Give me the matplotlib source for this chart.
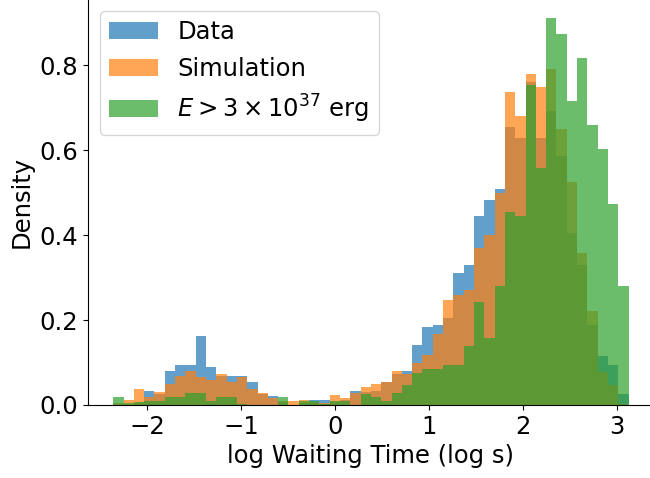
import numpy as np
import matplotlib
matplotlib.use("Agg")
import matplotlib.pyplot as plt

# Common binning (50 bins)
bin_lo, bin_hi, n_bins = -2.36, 3.125, 50

data_density = [0.0, 0.0, 0.004, 0.033, 0.027, 0.080, 0.094, 0.094, 0.162, 0.089,
                0.068, 0.068, 0.068, 0.054, 0.026, 0.021, 0.006, 0.0, 0.004, 0.012,
                0.012, 0.008, 0.012, 0.033, 0.030, 0.034, 0.054, 0.073, 0.080, 0.141,
                0.1835, 0.188, 0.205, 0.311, 0.329, 0.445, 0.482, 0.508, 0.654, 0.628,
                0.760, 0.628, 0.692, 0.586, 0.404, 0.329, 0.188, 0.115, 0.094, 0.026]

sim_density = [0.004, 0.012, 0.038, 0.019, 0.031, 0.050, 0.068, 0.080, 0.066, 0.059,
               0.073, 0.055, 0.066, 0.038, 0.028, 0.016, 0.009, 0.010, 0.012, 0.006,
               0.004, 0.0235, 0.016, 0.028, 0.042, 0.049, 0.054, 0.080, 0.073, 0.099,
               0.118, 0.167, 0.247, 0.258, 0.271, 0.369, 0.400, 0.499, 0.736, 0.680,
               0.779, 0.748, 0.791, 0.649, 0.524, 0.358, 0.221, 0.078, 0.047, 0.003]

high_e_density = [0.018, 0.005, 0.006, 0.009, 0.009, 0.019, 0.019, 0.028, 0.028, 0.009,
                  0.019, 0.019, 0.002, 0.0, 0.0, 0.0, 0.018, 0.0, 0.009, 0.009,
                  0.002, 0.010, 0.010, 0.0, 0.027, 0.019, 0.009, 0.028, 0.047, 0.075,
                  0.084, 0.084, 0.094, 0.094, 0.139, 0.242, 0.158, 0.281, 0.454, 0.445,
                  0.753, 0.558, 0.911, 0.873, 0.715, 0.816, 0.659, 0.602, 0.474, 0.280]

labels = ["Data", "Simulation", r"$E > 3\times10^{37}$ erg"]

edges = np.linspace(bin_lo, bin_hi, n_bins + 1)
centers = 0.5 * (edges[:-1] + edges[1:])

FS = 17.5

fig = plt.figure(figsize=(6.5, 4.78), dpi=100)
ax = fig.add_axes([87.5 / 650, 73 / 478, 566.9 / 650, 406.5 / 478])

for vals, lab in zip([data_density, sim_density, high_e_density], labels):
    ax.hist(centers, bins=edges, weights=vals, alpha=0.7, label=lab)

ax.set_xlabel("log Waiting Time (log s)", fontsize=FS)
ax.set_ylabel("Density", fontsize=FS)
ax.tick_params(labelsize=FS)
ax.set_xticks([-2, -1, 0, 1, 2, 3])
ax.set_yticks([0.0, 0.2, 0.4, 0.6, 0.8])
ax.legend(fontsize=FS, loc="upper left")

fig.savefig("out.png", dpi=100)
